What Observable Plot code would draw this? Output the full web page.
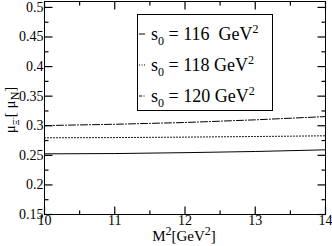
<!DOCTYPE html>
<html><head><meta charset="utf-8">
<script src="https://cdn.jsdelivr.net/npm/d3@7"></script>
<script src="https://cdn.jsdelivr.net/npm/@observablehq/plot@0.6"></script>
<style>
body{margin:0;background:#fff;font-family:"Liberation Serif",serif;}
#wrap{position:relative;width:332px;height:246px;}
#wrap > svg{font-family:"Liberation Serif",serif;}
#legend{position:absolute;left:137px;top:14px;width:134px;height:95px;border:1px solid #000;background:#fff;font-size:18px;color:#000;}
.row{position:absolute;left:1px;height:26px;display:flex;align-items:center;white-space:nowrap;}
.row svg{margin-right:6px;}
sub,sup{font-size:12px;line-height:0;}
#ylab{position:absolute;left:0;top:0;transform-origin:0 0;font-size:15px;white-space:nowrap;}
#xlab{position:absolute;font-size:15px;white-space:nowrap;}
#err{position:absolute;left:0;top:0;font:10px sans-serif;color:red;}
</style></head>
<body><div id="wrap"></div><div id="err"></div>
<script>
window.onerror = (m) => { document.getElementById("err").textContent += m; };
const m2 = [10, 11, 12, 13, 14];
const s116 = [0.2525, 0.253, 0.2545, 0.2565, 0.2593];
const s118 = [0.2796, 0.280, 0.2808, 0.2818, 0.283];
const s120 = [0.3003, 0.3025, 0.3055, 0.310, 0.3155];
const s0Values = ["116", "118", "120"];
const xTicks = [10, 11, 12, 13, 14];
const xMinor = [10.5, 11.5, 12.5, 13.5];
const yTicks = [0.15, 0.2, 0.25, 0.3, 0.35, 0.4, 0.45, 0.5];
const yMinor = [0.175, 0.225, 0.275, 0.325, 0.375, 0.425, 0.475];
const dashes = [null, "1,2", "7,2,1,2"];

const series = [s116, s118, s120];
const data = series.flatMap((vals, i) => vals.map((v, j) => ({x: m2[j], y: v, s: i})));

const W = 332, H = 246, ML = 44, MR = 7, MT = 1, MB = 32;
const IW = W - ML - MR, IH = H - MT - MB;
const XD = [10, 14], YD = [0.15, 0.51];
const pxX = (XD[1] - XD[0]) / IW, pxY = (YD[1] - YD[0]) / IH;
const MAJ = 8, MIN = 4;

// tick segments built from the tick arrays (inward ticks on all four sides)
const segs = [];
[[xTicks, MAJ], [xMinor, MIN]].forEach(([ticks, len]) => ticks.forEach(t => {
  segs.push({x1: t, x2: t, y1: YD[0], y2: YD[0] + len * pxY});
  segs.push({x1: t, x2: t, y1: YD[1], y2: YD[1] - len * pxY});
}));
[[yTicks, MAJ], [yMinor, MIN]].forEach(([ticks, len]) => ticks.forEach(t => {
  segs.push({y1: t, y2: t, x1: XD[0], x2: XD[0] + len * pxX});
  segs.push({y1: t, y2: t, x1: XD[1], x2: XD[1] - len * pxX});
}));

const plot = Plot.plot({
  width: W, height: H,
  marginLeft: ML, marginRight: MR, marginTop: MT, marginBottom: MB,
  style: {fontFamily: "'Liberation Serif', serif", fontSize: "14px", color: "#000", background: "#fff"},
  x: {domain: XD},
  y: {domain: YD},
  marks: [
    ...series.map((vals, i) => Plot.line(data.filter(d => d.s === i), {x: "x", y: "y", stroke: "#000", strokeWidth: 1, strokeDasharray: dashes[i]})),
    Plot.axisX({anchor: "bottom", ticks: xTicks, tickSize: 0, tickPadding: 1, label: null, tickFormat: d => d}),
    Plot.axisY({anchor: "left", ticks: yTicks, tickSize: 0, tickPadding: 1, label: null, tickFormat: d => String(+d.toFixed(2))}),
    Plot.link(segs, {x1: "x1", y1: "y1", x2: "x2", y2: "y2", stroke: "#000", strokeWidth: 1.2}),
    Plot.frame({stroke: "#000", strokeWidth: 1})
  ]
});
const wrap = document.getElementById("wrap");
wrap.appendChild(plot);

// legend
const leg = document.createElement("div");
leg.id = "legend";
s0Values.forEach((v, i) => {
  const row = document.createElement("div");
  row.className = "row";
  row.style.top = (6 + i * 31) + "px";
  const dash = dashes[i] ? `stroke-dasharray="${i === 1 ? "1,1.5" : "3,1.5,1,1.5"}"` : "";
  row.innerHTML = `<svg width="6" height="4"><line x1="0" y1="2" x2="6" y2="2" stroke="#000" stroke-width="1" ${dash}/></svg>` +
    `<span>s<sub>0</sub> = ${v}${i === 0 ? "&nbsp; " : " "}GeV<sup>2</sup></span>`;
  leg.appendChild(row);
});
wrap.appendChild(leg);

// axis labels
const yl = document.createElement("div");
yl.id = "ylab";
yl.innerHTML = `μ<sub style="font-size:9px">Ξ<sup style="font-size:7px">-</sup></sub>[ μ<sub>N</sub>]`;
wrap.appendChild(yl);
const w = yl.getBoundingClientRect().width;
yl.style.transform = `translate(2px, ${110 + w / 2}px) rotate(-90deg)`;

const xl = document.createElement("div");
xl.id = "xlab";
xl.innerHTML = `M<sup>2</sup>[GeV<sup>2</sup>]`;
wrap.appendChild(xl);
const xw = xl.getBoundingClientRect().width;
xl.style.left = (184 - xw / 2) + "px";
xl.style.top = "228px";
</script></body></html>
